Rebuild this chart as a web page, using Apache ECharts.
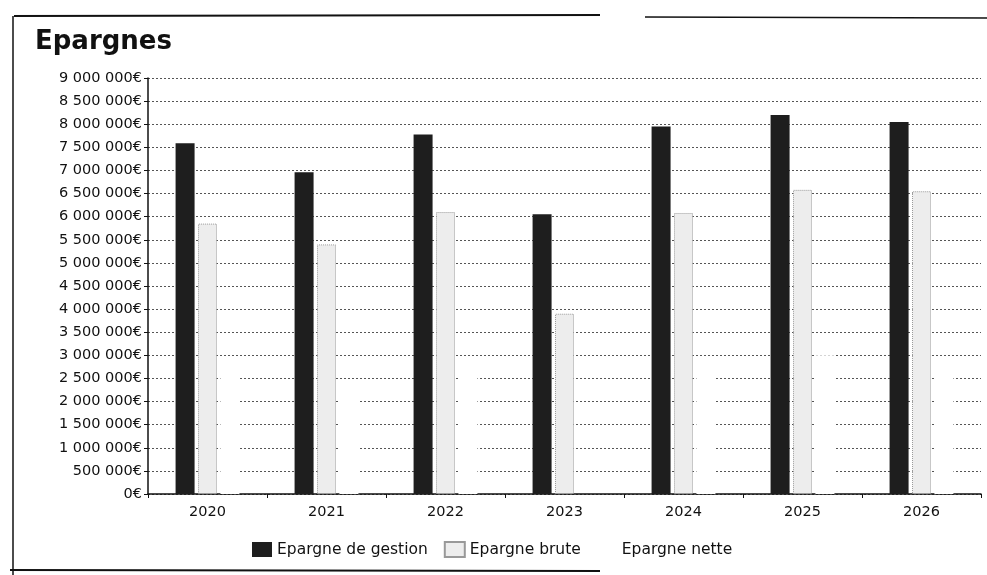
<!DOCTYPE html>
<html>
<head>
<meta charset="utf-8">
<script src="https://cdn.jsdelivr.net/npm/echarts@6/dist/echarts.min.js"></script>
<style>
html,body{margin:0;padding:0;background:#fff;}
#c{width:987px;height:575px;}
</style>
</head>
<body>
<div id="c"></div>
<script>
const categories = ['2020','2021','2022','2023','2024','2025','2026'];
const epargneGestion = [7590000, 6960000, 7780000, 6050000, 7950000, 8200000, 8050000];
const epargneBrute = [5850000, 5400000, 6100000, 3900000, 6080000, 6580000, 6550000];
const epargneNette = [2800000, 2300000, 2680000, 0, 2570000, 3000000, 2570000];
const seriesNames = ['Epargne de gestion', 'Epargne brute', 'Epargne nette'];

function fmt(v){
  return String(v).replace(/\B(?=(\d{3})+(?!\d))/g, ' ') + '€';
}

const chart = echarts.init(document.getElementById('c'));
chart.setOption({
  backgroundColor: '#fff',
  animation: false,
  textStyle: {fontFamily: 'DejaVu Sans'},
  title: {
    text: 'Epargnes', left: 30, top: 24,
    textStyle: {fontFamily: 'DejaVu Sans', fontSize: 26, fontWeight: 'bold', color: '#111'}
  },
  legend: {
    bottom: 12, left: 247, itemWidth: 20, itemHeight: 15, itemGap: 16,
    icon: 'rect',
    textStyle: {fontSize: 15.5, color: '#111'},
    data: seriesNames
  },
  grid: {left: 148, right: 6, top: 78, bottom: 81, containLabel: false},
  xAxis: {
    type: 'category', data: categories,
    axisLine: {lineStyle: {color: '#111', width: 1.5}},
    axisTick: {show: true, lineStyle: {color: '#111'}, length: 4},
    axisLabel: {color: '#111', fontSize: 14.5, margin: 11}
  },
  yAxis: {
    type: 'value', min: 0, max: 9000000, interval: 500000,
    axisLine: {show: true, lineStyle: {color: '#111', width: 1.5}},
    axisTick: {show: true, length: 4, lineStyle: {color: '#111'}},
    axisLabel: {color: '#111', fontSize: 14.5, margin: 6, formatter: fmt},
    splitLine: {show: true, lineStyle: {color: '#555', type: [2, 2], width: 1}}
  },
  series: [
    {name: seriesNames[0], type: 'bar', data: epargneGestion, barWidth: 19, barGap: '18%',
     itemStyle: {color: '#1e1e1e'}},
    {name: seriesNames[1], type: 'bar', data: epargneBrute, barWidth: 19,
     itemStyle: {color: '#ededed', borderColor: '#999', borderWidth: 1, borderType: 'dotted'}},
    {name: seriesNames[2], type: 'bar', data: epargneNette, barWidth: 19,
     itemStyle: {color: '#ffffff'}}
  ],
  graphic: [
    {type: 'line', shape: {x1: 14, y1: 16, x2: 600, y2: 15}, style: {stroke: '#111', lineWidth: 2}},
    {type: 'line', shape: {x1: 645, y1: 17, x2: 987, y2: 18}, style: {stroke: '#111', lineWidth: 1.5}},
    {type: 'line', shape: {x1: 13, y1: 16, x2: 13, y2: 575}, style: {stroke: '#111', lineWidth: 1.5}},
    {type: 'line', shape: {x1: 10, y1: 570, x2: 600, y2: 571}, style: {stroke: '#111', lineWidth: 2}}
  ]
});
</script>
</body>
</html>
